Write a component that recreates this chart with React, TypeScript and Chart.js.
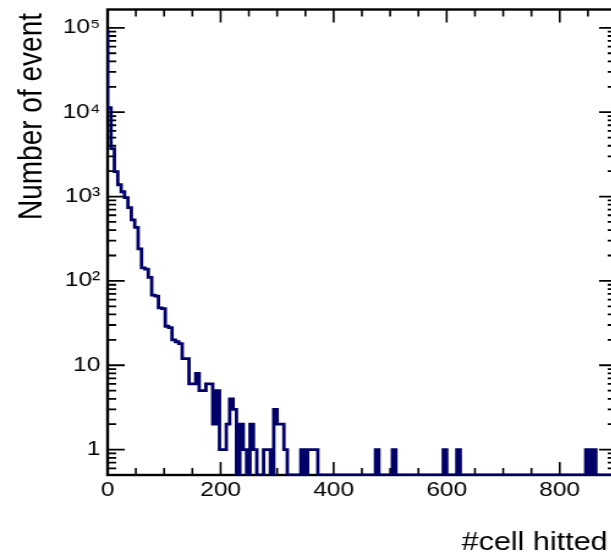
import React, { useEffect, useRef } from 'react';
import { Chart, registerables } from 'chart.js';

Chart.register(...registerables);

// ---- data ----
const BIN_WIDTH = 6;
const X_MIN = 0;
const X_MAX = 900;
const Y_MIN = 0.5;
const Y_MAX = 1.65e5;

// counts per bin of width 6 (0..900)
const COUNTS = [
  95000, 11300, 3700, 1970, 1380, 1140, 970, 740, 530, 430,
  240, 143, 138, 110, 68, 66, 48, 47, 29, 28,
  20, 19, 18, 12, 12, 6, 6, 8, 5, 5,
  6, 6, 2, 5, 1, 1, 2, 4, 3, 0,
  2, 1, 0, 2, 1, 0, 0, 1, 1, 0,
  3, 2, 2, 1, 0, 0, 0, 0, 1, 0,
  1, 1, 1, 0, 0, 0, 0, 0, 0, 0,
  0, 0, 0, 0, 0, 0, 0, 0, 0, 0,
  1, 0, 0, 0, 0, 1, 0, 0, 0, 0,
  0, 0, 0, 0, 0, 0, 0, 0, 0, 0,
  1, 0, 0, 0, 1, 0, 0, 0, 0, 0,
  0, 0, 0, 0, 0, 0, 0, 0, 0, 0,
  0, 0, 0, 0, 0, 0, 0, 0, 0, 0,
  0, 0, 0, 0, 0, 0, 0, 0, 0, 0,
  0, 0, 1, 0, 1, 0, 0, 0, 0, 0,
];

const X_TICKS = [0, 200, 400, 600, 800];
const X_MINOR_STEP = 50;
const Y_TICKS = [1, 10, 100, 1000, 10000, 100000];
const Y_TICK_LABELS = ['1', '10', '10\u00B2', '10\u00B3', '10\u2074', '10\u2075'];
const X_TITLE = '#cell hitted';
const Y_TITLE = 'Number of event';

// ---- style ----
const STRETCH = 611 / 500; // horizontal stretch of the original picture
const CANVAS_W = 512;
const CANVAS_H = 557;
const LINE_COLOR = '#000068';
const FONT = '"Liberation Sans", Arial, Helvetica, sans-serif';

const rootFrame = {
  id: 'rootFrame',
  beforeDatasetsDraw(chart: any) {
    const { ctx, chartArea: a, scales } = chart;
    const xs = scales.x;
    const ys = scales.y;
    ctx.save();
    ctx.strokeStyle = '#000';
    // x ticks (bottom & top, pointing inward)
    ctx.lineWidth = 1.6;
    ctx.beginPath();
    for (let v = X_MIN; v < X_MAX; v += X_MINOR_STEP) {
      if (v === X_MIN) continue;
      const px = xs.getPixelForValue(v);
      const len = X_TICKS.includes(v) ? 13 : 7;
      ctx.moveTo(px, a.bottom);
      ctx.lineTo(px, a.bottom - len);
      ctx.moveTo(px, a.top);
      ctx.lineTo(px, a.top + len);
    }
    ctx.stroke();
    // y ticks (left & right, pointing inward)
    ctx.lineWidth = 1.8;
    ctx.beginPath();
    for (let e = -1; e <= 5; e++) {
      for (let d = 1; d <= 9; d++) {
        const v = d * Math.pow(10, e);
        if (v <= Y_MIN || v >= Y_MAX) continue;
        const py = ys.getPixelForValue(v);
        const len = d === 1 ? 14 : 7;
        ctx.moveTo(a.left, py);
        ctx.lineTo(a.left + len, py);
        ctx.moveTo(a.right, py);
        ctx.lineTo(a.right - len, py);
      }
    }
    ctx.stroke();
    // frame
    ctx.lineWidth = 2.4;
    ctx.strokeRect(a.left, a.top, a.right - a.left, a.bottom - a.top);
    ctx.restore();
  },
  afterDraw(chart: any) {
    const { ctx, chartArea: a } = chart;
    ctx.save();
    ctx.fillStyle = '#000';
    ctx.textBaseline = 'alphabetic';
    ctx.textAlign = 'right';
    ctx.font = `25px ${FONT}`;
    ctx.fillText(X_TITLE, a.right - 7, 550);
    ctx.translate(34.4, 13);
    ctx.rotate(-Math.PI / 2);
    ctx.font = `28px ${FONT}`;
    ctx.fillText(Y_TITLE, 0, 0);
    ctx.restore();
  },
};

export default function App() {
  const ref = useRef<HTMLCanvasElement>(null);

  useEffect(() => {
    if (!ref.current) return;
    // empty bins are drawn on the frame floor, as ROOT does on a log axis
    const points = COUNTS.map((c, i) => ({ x: X_MIN + i * BIN_WIDTH, y: c > 0 ? c : Y_MIN }));
    points.push({ x: X_MIN + COUNTS.length * BIN_WIDTH, y: Y_MIN });

    const chart = new Chart(ref.current, {
      type: 'line',
      data: {
        datasets: [
          {
            data: points,
            stepped: 'after',
            borderColor: LINE_COLOR,
            borderWidth: 2.8,
            pointRadius: 0,
            fill: false,
            tension: 0,
            borderJoinStyle: 'miter',
          } as any,
        ],
      },
      plugins: [rootFrame],
      options: {
        responsive: false,
        animation: false,
        devicePixelRatio: 1,
        events: [],
        layout: { padding: { top: 9.5, right: 8, bottom: 0, left: 0 } },
        plugins: {
          legend: { display: false },
          tooltip: { enabled: false },
          title: { display: false },
        },
        scales: {
          x: {
            type: 'linear',
            min: X_MIN,
            max: X_MAX,
            grid: { display: false, drawTicks: false },
            border: { display: false },
            ticks: {
              autoSkip: false,
              maxRotation: 0,
              padding: 3,
              color: '#000',
              font: { family: FONT, size: 20 },
              callback: (v: any) => String(v),
            },
            afterBuildTicks: (s: any) => {
              s.ticks = X_TICKS.map((value) => ({ value }));
            },
            afterFit: (s: any) => {
              s.height = 82;
              s.paddingLeft = 0;
              s.paddingRight = 0;
            },
          },
          y: {
            type: 'logarithmic',
            min: Y_MIN,
            max: Y_MAX,
            grid: { display: false, drawTicks: false },
            border: { display: false },
            ticks: {
              autoSkip: false,
              padding: 6,
              color: '#000',
              font: { family: FONT, size: 20 },
              callback: (v: any) => {
                const i = Y_TICKS.indexOf(Number(v));
                return i >= 0 ? Y_TICK_LABELS[i] : '';
              },
            },
            afterBuildTicks: (s: any) => {
              s.ticks = Y_TICKS.map((value) => ({ value }));
            },
            afterFit: (s: any) => {
              s.width = 88;
              s.paddingTop = 0;
              s.paddingBottom = 0;
            },
          },
        },
      } as any,
    });
    return () => chart.destroy();
  }, []);

  return (
    <div
      style={{
        position: 'fixed',
        left: 0,
        top: 0,
        width: 611,
        height: 557,
        overflow: 'hidden',
        background: '#fff',
      }}
    >
      <canvas
        ref={ref}
        width={CANVAS_W}
        height={CANVAS_H}
        style={{ display: 'block', width: `${CANVAS_W * STRETCH}px`, height: `${CANVAS_H}px` }}
      />
    </div>
  );
}
